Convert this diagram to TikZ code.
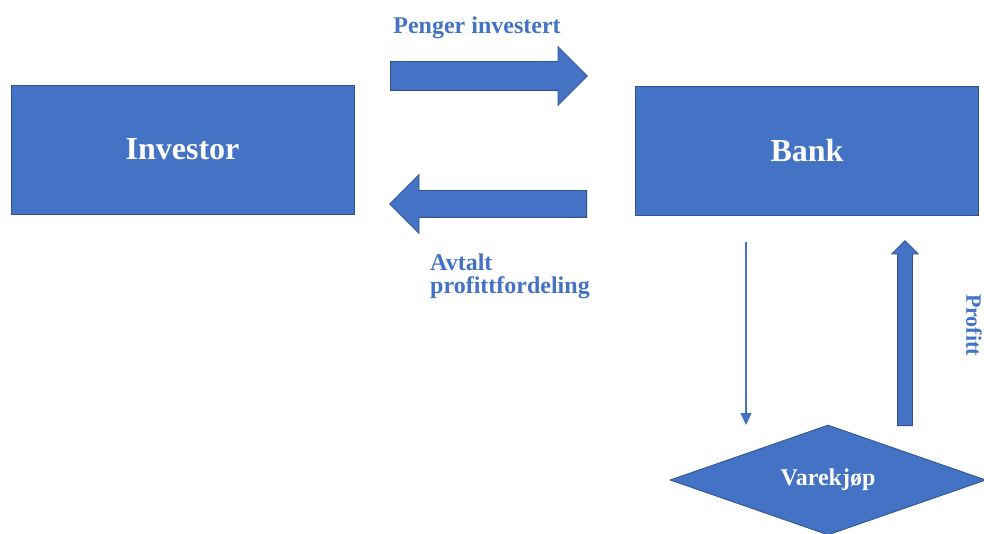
\documentclass[tikz,border=0pt]{standalone}
\usepackage{fontspec}
\setmainfont{Liberation Serif}
\usetikzlibrary{shapes.arrows,shapes.geometric,arrows.meta}
\definecolor{ivBlue}{HTML}{4472C4}
\definecolor{ivEdge}{HTML}{2F528F}

\begin{document}
\begin{tikzpicture}[x=1pt, y=-1pt,
    box/.style={draw=ivEdge, line width=0.8pt, fill=ivBlue, text=white, minimum width=343pt, minimum height=129pt, inner sep=0pt, font=\fontsize{32}{38}\selectfont\bfseries},
    bigarrow/.style={single arrow, draw=ivEdge, line width=0.8pt, fill=ivBlue, single arrow tip angle=90, anchor=tail},
    flowtext/.style={text=ivBlue, font=\fontsize{24}{23}\selectfont\bfseries, inner sep=0pt},
    arrow/.style={-{Triangle[width=11pt,length=12pt]}, line width=1.4pt, ivBlue}
]
    \useasboundingbox (0,0) rectangle (984,534);

    % Main boxes
    \node[box] (investor) at (182.5,149.5) {Investor};
    \node[box] (bank) at (807,151) {Bank};
    \node[diamond, aspect=2, draw=ivEdge, line width=0.8pt, fill=ivBlue, text=white, inner sep=0pt, minimum width=316pt, minimum height=110pt, font=\fontsize{24}{28}\selectfont\bfseries] (varekjop) at (828,480) {Varekjøp};

    % Block arrows
    \node[bigarrow, inner sep=14pt, single arrow head extend=15pt, minimum height=197pt] (invest) at (390,76) {};
    \node[bigarrow, inner sep=13pt, single arrow head extend=16pt, minimum height=197pt, shape border rotate=180] (share) at (587,204) {};
    \node[bigarrow, inner sep=7pt, single arrow head extend=6pt, minimum height=185pt, shape border rotate=90] (profit) at (905,426) {};

    % Labels
    \node[flowtext, anchor=base] (penger) at (477,34) {Penger investert};
    \node[flowtext, align=left, anchor=north west] (avtalt) at (430,254) {Avtalt\\profittfordeling};
    \node[flowtext, font=\fontsize{22}{26}\selectfont\bfseries, rotate=-90] (profitt) at (974,325) {Profitt};

    % Purchase arrow
    \coordinate (buyTop) at (746,242);
    \coordinate (buyEnd) at (746,425);
    \draw[arrow] (buyTop) -- (buyEnd);
\end{tikzpicture}
\end{document}
